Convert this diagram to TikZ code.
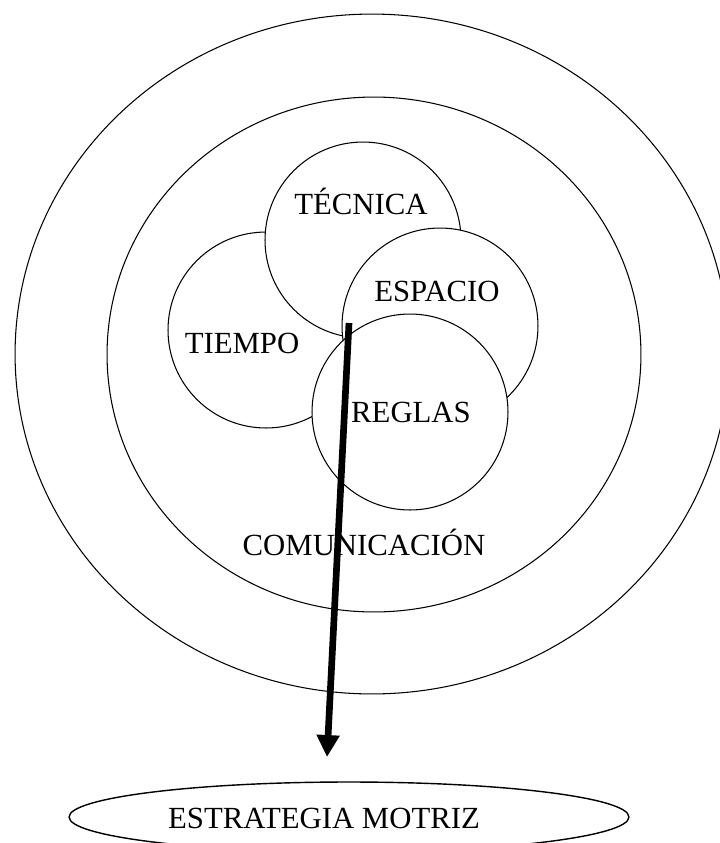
\documentclass[tikz,border=0pt]{standalone}
\usepackage{fontspec}
\setmainfont{Liberation Serif}
\usetikzlibrary{shapes.geometric}
\usetikzlibrary{arrows.meta}
\tikzset{
	anillo/.style={
		draw,
		ellipse,
		line width=0.6pt,
		inner sep=0pt
	},
	esfera/.style={
		draw,
		circle,
		fill=white,
		line width=0.6pt,
		minimum size=3.92cm,
		inner sep=0pt
	},
	rotulo/.style={
		anchor=base,
		inner sep=0pt,
		font=\fontsize{17.5pt}{20pt}\selectfont
	}
}

\begin{document}
\begin{tikzpicture}[x=0.02cm,y=-0.02cm,flecha/.style={line width=3.8pt,-{Triangle[length=12.5pt,width=12.5pt]}}]
	\useasboundingbox (0,0) rectangle (720,843);
	\clip (0,0) rectangle (720,843);
	
	% anillos
	\node[anillo,minimum width=14.28cm,minimum height=13.6cm] (externo) at (372,354) {};
	\node[anillo,minimum width=10.68cm,minimum height=10.3cm] (comunicacion) at (374,354.5) {};
	\node[rotulo] (comunicacion-txt) at (364,555) {COMUNICACIÓN};
	
	% esferas
	\node[esfera] (tiempo) at (266,330) {};
	\node[rotulo] (tiempo-txt) at (242,353) {TIEMPO};
	\node[esfera] (tecnica) at (363,240) {};
	\node[rotulo] (tecnica-txt) at (361,214) {TÉCNICA};
	\node[esfera] (espacio) at (440,326) {};
	\node[rotulo] (espacio-txt) at (437,301) {ESPACIO};
	\node[esfera] (reglas) at (410,412) {};
	\node[rotulo] (reglas-txt) at (411,422) {REGLAS};
	
	% estrategia
	\node[anillo,line width=0.8pt,minimum width=11.2cm,minimum height=1.4cm] (estrategia) at (349,817) {};
	\node[rotulo] (estrategia-txt) at (324,828) {ESTRATEGIA MOTRIZ};
	\coordinate (origen) at (349,323);
	\coordinate (punta) at (327,757);
	\draw[flecha] (origen) -- (punta);
\end{tikzpicture}
\end{document}
